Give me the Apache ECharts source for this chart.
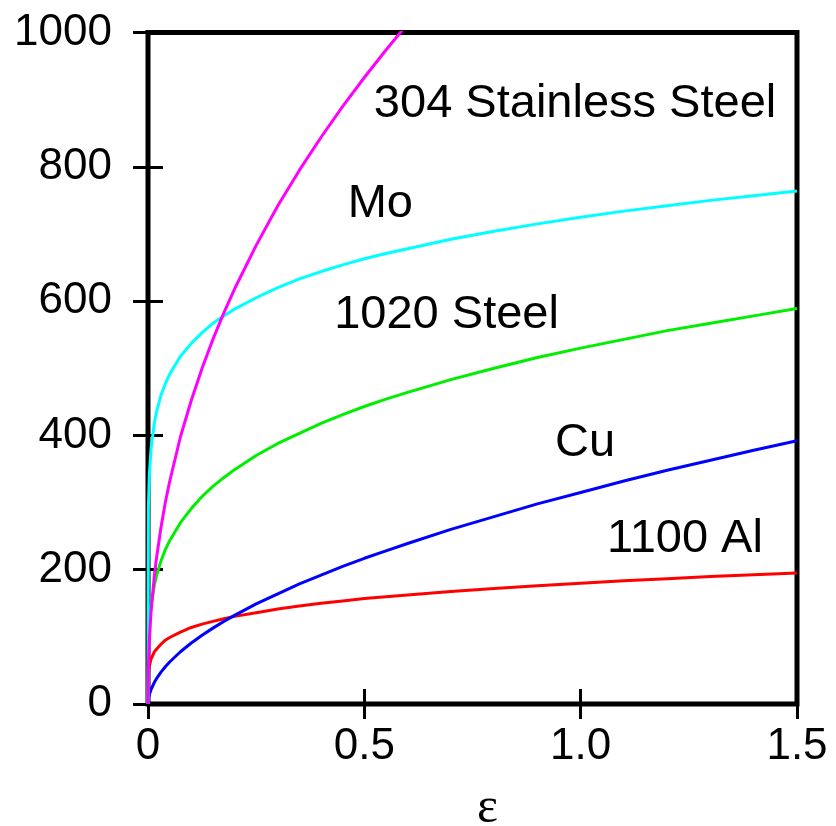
<!DOCTYPE html>
<html>
<head>
<meta charset="utf-8">
<script src="https://cdn.jsdelivr.net/npm/echarts@6/dist/echarts.min.js"></script>
<style>
html,body{margin:0;padding:0;background:#fff;}
#chart{width:836px;height:826px;}
</style>
</head>
<body>
<div id="chart"></div>
<script>
// strain values (x)
var strain = [0, 0.001, 0.003, 0.007, 0.015, 0.02, 0.03, 0.04, 0.05, 0.075, 0.1, 0.125, 0.15, 0.175, 0.2, 0.25, 0.3, 0.35, 0.4, 0.45, 0.5, 0.55, 0.6, 0.7, 0.8, 0.9, 1.0, 1.1, 1.2, 1.3, 1.4, 1.5];
// true stress values
var ss304 = [0, 57, 93, 137, 193, 219, 263, 300, 331, 398, 452, 500, 543, 582, 618, 683, 742, 795, 844, 890, 933, 974, 1013];
var mo    = [0, 295, 341, 380, 420, 436, 460, 477, 491, 518, 537, 553, 567, 578, 588, 605, 620, 633, 644, 654, 663, 671, 678, 692, 704, 715, 725, 734, 742, 750, 757, 764];
var st1020= [0, 88, 117, 146, 178, 192, 213, 230, 243, 270, 291, 309, 324, 337, 349, 370, 388, 403, 418, 431, 443, 454, 464, 483, 500, 516, 530, 543, 556, 567, 578, 589];
var cu    = [0, 7.6, 13.7, 21.6, 32.6, 38.1, 47.4, 55.4, 62.5, 77.8, 90.8, 102.5, 113, 123, 132, 149, 164, 179, 192, 205, 217, 228, 239, 260, 279, 298, 315, 332, 348, 363, 378, 392];
var al1100= [0, 45, 56, 67, 78, 82, 89, 95, 99, 107, 114, 119, 123, 127, 130.5, 136, 141.5, 146, 150, 153.4, 157, 159.7, 162.5, 167.6, 172, 176, 180, 183.5, 186.7, 189.7, 192.5, 195.2];

// curve labels (data coordinates)
var labelNames = ['304 Stainless Steel', 'Mo', '1020 Steel', 'Cu', '1100 Al'];
var labelX = [0.987, 0.537, 0.690, 1.010, 1.241];
var labelY = [893, 744, 579, 389, 246];

var xTicks = ['0', '0.5', '1.0', '1.5'];
var xName = 'ε';

function pairs(ys) {
  var out = [];
  for (var i = 0; i < ys.length; i++) out.push([strain[i], ys[i]]);
  return out;
}

var chart = echarts.init(document.getElementById('chart'), null, {renderer: 'canvas'});
var labelFont = 'Liberation Sans';
var fs = 47;
var tickFs = 44;

function lineSeries(name, ys, color) {
  return {
    name: name, type: 'line', data: pairs(ys), showSymbol: false, symbol: 'none',
    clip: true, smooth: false,
    lineStyle: {color: color, width: 3, join: 'round'}, z: 3
  };
}

var labelData = [];
for (var i = 0; i < labelNames.length; i++) labelData.push({value: [labelX[i], labelY[i]], name: labelNames[i]});

chart.setOption({
  animation: false,
  backgroundColor: '#fff',
  grid: {left: 148, right: 39, top: 32.5, bottom: 122, show: true, borderColor: '#000', borderWidth: 5, backgroundColor: 'transparent', outerBoundsMode: 'none', containLabel: false},
  xAxis: [{
    type: 'value', min: 0, max: 1.5, interval: 0.5, position: 'bottom',
    axisLine: {show: false}, splitLine: {show: false},
    axisTick: {show: true, inside: true, length: 15, lineStyle: {color: '#000', width: 3}},
    axisLabel: {color: '#000', fontFamily: labelFont, fontSize: tickFs, margin: 21,
      formatter: function (v) { return xTicks[Math.round(v / 0.5)]; }},
    name: xName, nameLocation: 'middle', nameGap: 80,
    nameTextStyle: {color: '#000', fontFamily: 'Liberation Serif', fontSize: 50, padding: [0, 0, 0, 30]}
  }, {
    type: 'value', min: 0, max: 1.5, interval: 0.5, position: 'top',
    axisLine: {show: false}, splitLine: {show: false}, axisLabel: {show: false},
    axisTick: {show: true, inside: true, length: 15, lineStyle: {color: '#000', width: 3}}
  }],
  yAxis: [{
    type: 'value', min: 0, max: 1000, interval: 200, position: 'left',
    axisLine: {show: false}, splitLine: {show: false},
    axisTick: {show: true, inside: true, length: 15, lineStyle: {color: '#000', width: 3}},
    axisLabel: {color: '#000', fontFamily: labelFont, fontSize: tickFs, margin: 36,
      formatter: function (v) { return String(v); }}
  }, {
    type: 'value', min: 0, max: 1000, interval: 200, position: 'right',
    axisLine: {show: false}, splitLine: {show: false}, axisLabel: {show: false},
    axisTick: {show: true, inside: true, length: 15, lineStyle: {color: '#000', width: 3}}
  }],
  series: [
    lineSeries('1100 Al', al1100, '#ff0000'),
    lineSeries('Cu', cu, '#0000ff'),
    lineSeries('1020 Steel', st1020, '#00ee00'),
    lineSeries('Mo', mo, '#00ffff'),
    lineSeries('304 Stainless Steel', ss304, '#ff00ff'),
    {
      type: 'scatter', data: labelData, symbolSize: 0, silent: true, z: 5,
      itemStyle: {color: '#000', opacity: 1},
      label: {show: true, position: 'inside', formatter: '{b}', color: '#000',
        textBorderWidth: 0, textBorderColor: 'transparent',
        fontFamily: labelFont, fontSize: fs}
    }
  ]
});
</script>
</body>
</html>
